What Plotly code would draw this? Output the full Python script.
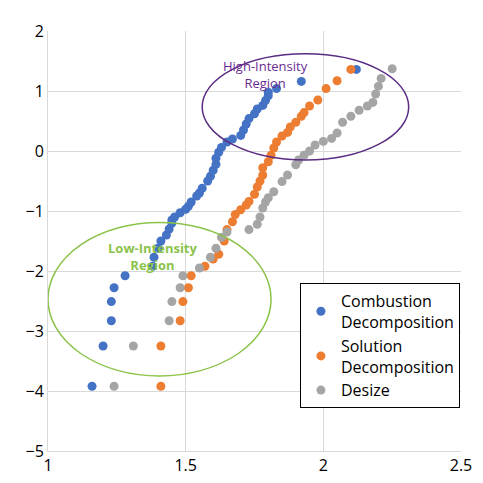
import plotly.graph_objects as go

comb_x = [1.16,1.20,1.23,1.23,1.24,1.28,1.38,1.385,1.40,1.41,1.43,1.44,1.45,1.45,1.46,1.48,1.50,1.51,1.52,1.54,1.55,1.56,1.58,1.59,1.60,1.61,1.61,1.62,1.63,1.65,1.67,1.70,1.71,1.72,1.73,1.75,1.76,1.78,1.79,1.80,1.80,1.83,1.92,2.12]
comb_y = [-3.92,-3.25,-2.83,-2.51,-2.28,-2.08,-1.92,-1.77,-1.62,-1.50,-1.40,-1.30,-1.20,-1.15,-1.10,-1.03,-0.97,-0.92,-0.85,-0.75,-0.70,-0.62,-0.50,-0.42,-0.32,-0.22,-0.12,-0.02,0.06,0.15,0.20,0.26,0.35,0.45,0.54,0.62,0.70,0.76,0.84,0.92,0.98,1.04,1.16,1.36]

sol_x = [1.41,1.41,1.48,1.49,1.51,1.52,1.57,1.60,1.62,1.64,1.65,1.67,1.68,1.70,1.72,1.73,1.75,1.76,1.77,1.78,1.78,1.80,1.81,1.82,1.83,1.85,1.87,1.88,1.90,1.92,1.93,1.95,1.98,2.01,2.05,2.10]
sol_y = [-3.92,-3.25,-2.83,-2.51,-2.28,-2.08,-1.92,-1.80,-1.72,-1.50,-1.31,-1.18,-1.06,-0.98,-0.90,-0.84,-0.72,-0.60,-0.50,-0.40,-0.28,-0.18,-0.07,0.05,0.15,0.25,0.31,0.40,0.48,0.58,0.64,0.75,0.85,1.04,1.17,1.36]

des_x = [1.24,1.31,1.44,1.45,1.48,1.49,1.55,1.59,1.61,1.63,1.65,1.73,1.76,1.77,1.78,1.79,1.80,1.82,1.85,1.87,1.90,1.91,1.93,1.95,1.97,2.00,2.03,2.05,2.07,2.10,2.13,2.16,2.18,2.19,2.20,2.21,2.25]
des_y = [-3.92,-3.25,-2.83,-2.51,-2.28,-2.08,-1.95,-1.77,-1.62,-1.44,-1.35,-1.31,-1.22,-1.10,-0.95,-0.85,-0.78,-0.68,-0.51,-0.40,-0.23,-0.15,-0.07,0.00,0.10,0.16,0.21,0.30,0.48,0.58,0.68,0.75,0.81,0.95,1.08,1.21,1.37]

series = [("Combustion<br>Decomposition", comb_x, comb_y, "#4472C4"),
          ("Solution<br>Decomposition", sol_x, sol_y, "#ED7D31"),
          ("Desize", des_x, des_y, "#A5A5A5")]

fig = go.Figure()
for name, xs, ys, c in series:
    fig.add_trace(go.Scatter(x=xs, y=ys, mode="markers", name=name,
                             marker=dict(color=c, size=9)))

fig.add_shape(type="circle", xref="x", yref="y", x0=1.56, x1=2.31, y0=-0.15, y1=1.62,
              line=dict(color="#5B2C83", width=1.5))
fig.add_shape(type="circle", xref="x", yref="y", x0=1.0, x1=1.81, y0=-3.75, y1=-1.19,
              line=dict(color="#8BC34A", width=1.5))
fig.add_annotation(x=1.79, y=1.28, text="High-Intensity<br>Region", showarrow=False,
                   font=dict(color="#6A2C91", size=13, family="Open Sans"))
fig.add_annotation(x=1.38, y=-1.75, text="<b>Low-Intensity<br>Region</b>", showarrow=False,
                   font=dict(color="#8BC34A", size=13, family="Open Sans"))

fig.update_layout(
    width=483, height=483, margin=dict(l=40, r=30, t=12, b=40),
    plot_bgcolor="white", paper_bgcolor="white",
    font=dict(family="Open Sans", size=16, color="black"),
    legend=dict(x=0.61, y=0.40, xanchor="left", yanchor="top",
                bordercolor="black", borderwidth=1, bgcolor="white",
                font=dict(size=16)),
    xaxis=dict(range=[1, 2.5], tickvals=[1, 1.5, 2, 2.5], showgrid=True,
               gridcolor="#D9D9D9", showline=True, linecolor="#D9D9D9", zeroline=False),
    yaxis=dict(range=[-5, 2], dtick=1, showgrid=True, gridcolor="#D9D9D9",
               showline=True, linecolor="#D9D9D9", zeroline=False),
)
fig.write_html("out.html")
